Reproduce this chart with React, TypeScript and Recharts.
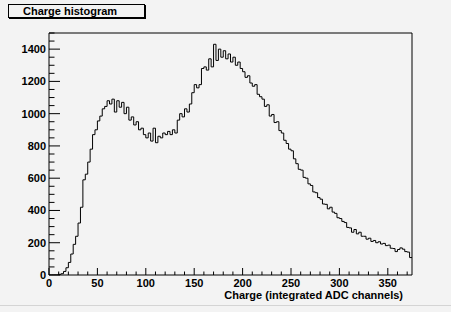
import React from 'react';
import { LineChart, Line, XAxis, YAxis, ReferenceLine } from 'recharts';

// histogram: 150 bins of 2.5 ADC channels from 0 to 375
const binWidth = 2.5;
const counts = [
  0, 0, 0, 0, 4, 8, 22, 45, 78, 130,
  190, 240, 322, 420, 590, 625, 700, 780, 870, 900,
  955, 985, 1030, 1045, 1080, 1060, 1090, 1010, 1080, 1040,
  1070, 1000, 1040, 960, 980, 930, 950, 900, 910, 870,
  850, 880, 830, 910, 820, 860, 850, 880, 870, 890,
  870, 900, 880, 960, 1000, 980, 1030, 1010, 1060, 1130,
  1180, 1160, 1180, 1280, 1290, 1270, 1340, 1290, 1430, 1330,
  1400, 1350, 1390, 1340, 1370, 1320, 1350, 1300, 1320, 1280,
  1260, 1225, 1235, 1190, 1170, 1180, 1120, 1105, 1090, 1045,
  1055, 985, 995, 945, 950, 895, 880, 835, 815, 780,
  770, 720, 690, 655, 650, 605, 600, 565, 555, 515,
  510, 480, 470, 440, 438, 410, 420, 390, 382, 355,
  350, 332, 325, 295, 292, 265, 282, 255, 265, 240,
  240, 222, 228, 208, 214, 200, 206, 192, 196, 182,
  185, 166, 164, 145, 158, 168, 160, 145, 142, 108,
];

const xTicks = [
  0, 10, 20, 30, 40, 50, 60, 70, 80, 90, 100, 110, 120, 130, 140, 150, 160, 170, 180, 190,
  200, 210, 220, 230, 240, 250, 260, 270, 280, 290, 300, 310, 320, 330, 340, 350, 360, 370,
];
const xLabels = [0, 50, 100, 150, 200, 250, 300, 350];
const yTicks = [
  0, 50, 100, 150, 200, 250, 300, 350, 400, 450, 500, 550, 600, 650, 700, 750,
  800, 850, 900, 950, 1000, 1050, 1100, 1150, 1200, 1250, 1300, 1350, 1400, 1450, 1500,
];
const yLabels = [0, 200, 400, 600, 800, 1000, 1200, 1400];

const xMax = 375;
const yMax = 1500;

const data = counts.map((c, i) => ({ x: i * binWidth, count: c }));
data.push({ x: xMax, count: counts[counts.length - 1] });

const font = '"Liberation Sans", Arial, sans-serif';

const XTick = (props: any) => {
  const { x, y, payload } = props;
  const major = xLabels.includes(payload.value);
  return (
    <g>
      <line x1={x} y1={y} x2={x} y2={y - (major ? 7 : 3.5)} stroke="#000" />
      {major && (
        <text x={x} y={y + 12} textAnchor="middle" fontSize={11} fontWeight="bold" fill="#000">
          {payload.value}
        </text>
      )}
    </g>
  );
};

const YTick = (props: any) => {
  const { x, y, payload } = props;
  const major = yLabels.includes(payload.value);
  return (
    <g>
      <line x1={x} y1={y} x2={x + (major ? 11 : 5.5)} y2={y} stroke="#000" />
      {major && (
        <text x={x - 3} y={y + 4} textAnchor="end" fontSize={11} fontWeight="bold" fill="#000">
          {payload.value}
        </text>
      )}
    </g>
  );
};

export default function App() {
  return (
    <div
      style={{
        position: 'absolute',
        left: 0,
        top: 0,
        width: 451,
        height: 312,
        background: '#f3f3f3',
        fontFamily: font,
        overflow: 'hidden',
      }}
    >
      <LineChart
        width={451}
        height={312}
        data={data}
        margin={{ top: 33, right: 39, left: 0, bottom: 0 }}
        style={{ fontFamily: font }}
      >
        <XAxis
          dataKey="x"
          type="number"
          domain={[0, xMax]}
          ticks={xTicks}
          interval={0}
          height={37}
          tickSize={0}
          tickMargin={0}
          tickLine={false}
          axisLine={{ stroke: '#000' }}
          tick={XTick}
          allowDataOverflow
        />
        <YAxis
          type="number"
          domain={[0, yMax]}
          ticks={yTicks}
          interval={0}
          width={49}
          tickSize={0}
          tickMargin={0}
          tickLine={false}
          axisLine={{ stroke: '#000' }}
          tick={YTick}
          allowDataOverflow
        />
        <ReferenceLine y={yMax} stroke="#000" />
        <ReferenceLine x={xMax} stroke="#000" />
        <Line
          type="stepAfter"
          dataKey="count"
          stroke="#000"
          strokeWidth={1}
          dot={false}
          isAnimationActive={false}
        />
      </LineChart>
      <div
        style={{
          position: 'absolute',
          left: 8,
          top: 4,
          width: 121,
          height: 12,
          border: '1px solid #000',
          boxShadow: '1px 1px 0 #000',
          background: '#f3f3f3',
          fontSize: 11,
          fontWeight: 'bold',
          lineHeight: '12px',
          paddingLeft: 14,
          boxSizing: 'content-box',
        }}
      >
        Charge histogram
      </div>
      <div
        style={{
          position: 'absolute',
          right: 451 - 403,
          top: 289,
          fontSize: 11,
          fontWeight: 'bold',
          lineHeight: '12px',
          whiteSpace: 'nowrap',
        }}
      >
        Charge (integrated ADC channels)
      </div>
      <div
        style={{
          position: 'absolute',
          left: 0,
          top: 305,
          width: 451,
          height: 1,
          background: '#d4d4d4',
        }}
      />
    </div>
  );
}
